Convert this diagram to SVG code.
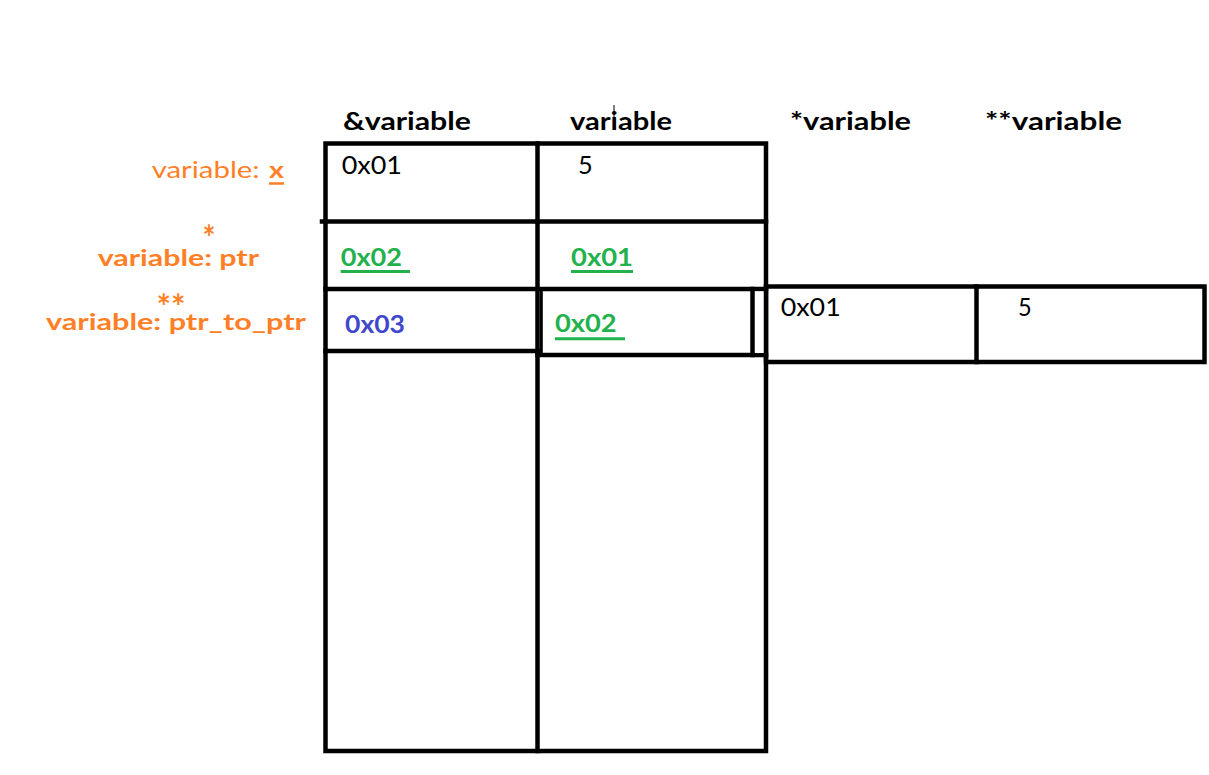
<svg xmlns="http://www.w3.org/2000/svg" width="1209" height="775" viewBox="0 0 1209 775">
<style>
  .ln { stroke: #000; stroke-width: 4.5; fill: none; stroke-linecap: square; }
  .hd { font-family: Lato, "Open Sans", sans-serif; font-weight: bold; font-size: 24px; fill: #000; }
  .lbl { font-family: Lato, "Open Sans", sans-serif; font-weight: bold; font-size: 23.5px; fill: #FF7F27; }
  .ast { font-family: Lato, "Open Sans", sans-serif; font-weight: bold; font-size: 34px; fill: #FF7F27; }
  .lblr { font-family: Lato, "Open Sans", sans-serif; font-size: 24px; fill: #FF7F27; }
  .val { font-family: Lato, "Open Sans", sans-serif; font-size: 25.5px; fill: #000; }
  .grn { font-family: Lato, "Open Sans", sans-serif; font-weight: bold; font-size: 25.5px; fill: #22B14C; }
  .blu { font-family: Lato, "Open Sans", sans-serif; font-weight: bold; font-size: 25.5px; fill: #3F48CC; }
  .ul-g { stroke: #22B14C; stroke-width: 3; }
  .ul-o { stroke: #FF7F27; stroke-width: 2.5; }
</style>
<rect width="1209" height="775" fill="#fff"/>

<g id="headers">
  <text class="hd" x="343" y="130" textLength="128" lengthAdjust="spacingAndGlyphs">&amp;variable</text>
  <text class="hd" x="570" y="130" textLength="102" lengthAdjust="spacingAndGlyphs">variable</text>
  <text class="hd" x="790" y="130" textLength="121" lengthAdjust="spacingAndGlyphs">*variable</text>
  <text class="hd" x="985" y="130" textLength="137" lengthAdjust="spacingAndGlyphs">**variable</text>
</g>

<g id="labels">
  <text class="lblr" x="151.7" y="178" textLength="108" lengthAdjust="spacingAndGlyphs">variable:</text>
  <text class="lbl" x="269" y="178" textLength="15" lengthAdjust="spacingAndGlyphs" font-size="24">x</text>
  <line class="ul-o" x1="269" y1="183.5" x2="284" y2="183.5"/>
  <text class="ast" x="202.5" y="250" textLength="13" lengthAdjust="spacingAndGlyphs">*</text>
  <text class="lbl" x="97.7" y="265.7" textLength="161.3" lengthAdjust="spacingAndGlyphs">variable: ptr</text>
  <text class="ast" x="156.5" y="318.5" textLength="29" lengthAdjust="spacingAndGlyphs">**</text>
  <text class="lbl" x="46" y="330" textLength="260" lengthAdjust="spacingAndGlyphs">variable: ptr_to_ptr</text>
</g>

<g id="connectors">
  <rect class="ln" x="325.5" y="143.5" width="440.5" height="607.5"/>
  <line class="ln" x1="537.5" y1="143.5" x2="537.5" y2="751"/>
  <line class="ln" x1="322" y1="221.5" x2="766" y2="221.5"/>
  <line class="ln" x1="325.5" y1="289" x2="766" y2="289"/>
  <line class="ln" x1="325.5" y1="351" x2="537.5" y2="351"/>
  <line stroke="#000" stroke-width="3" x1="541.3" y1="289" x2="541.3" y2="355"/>
  <line class="ln" x1="537.5" y1="355" x2="766" y2="355"/>
  <line class="ln" x1="752.5" y1="289" x2="752.5" y2="355"/>
  <rect x="755" y="291.5" width="9.5" height="61.5" fill="#fff"/>
  <line stroke="#000" stroke-width="2.5" x1="766" y1="289" x2="766" y2="366"/>
  <rect class="ln" x="766" y="286.5" width="438.5" height="75.5"/>
  <line class="ln" x1="976.5" y1="286.5" x2="976.5" y2="362"/>
</g>

<g id="row-x">
  <text class="val" x="341.7" y="174" textLength="60.3" lengthAdjust="spacingAndGlyphs">0x01</text>
  <text class="val" x="578" y="174" textLength="14.7" lengthAdjust="spacingAndGlyphs">5</text>
</g>

<g id="row-ptr">
  <text class="grn" x="340.7" y="266" textLength="61.3" lengthAdjust="spacingAndGlyphs">0x02</text>
  <line class="ul-g" x1="340.7" y1="271.5" x2="410" y2="271.5"/>
  <text class="grn" x="571" y="266" textLength="62" lengthAdjust="spacingAndGlyphs">0x01</text>
  <line class="ul-g" x1="571" y1="271.5" x2="633" y2="271.5"/>
</g>

<g id="row-ptr-to-ptr">
  <text class="blu" x="345" y="333" textLength="60" lengthAdjust="spacingAndGlyphs">0x03</text>
  <text class="grn" x="555" y="331.7" textLength="61.7" lengthAdjust="spacingAndGlyphs">0x02</text>
  <line class="ul-g" x1="555" y1="338.7" x2="625" y2="338.7"/>
</g>

<g id="deref-row">
  <text class="val" x="780.7" y="316" textLength="60" lengthAdjust="spacingAndGlyphs">0x01</text>
  <text class="val" x="1018" y="316" textLength="13.7" lengthAdjust="spacingAndGlyphs">5</text>
</g>

<g id="cursor">
  <line x1="614" y1="105" x2="614" y2="127" stroke="#000" stroke-width="1"/>
</g>
</svg>
